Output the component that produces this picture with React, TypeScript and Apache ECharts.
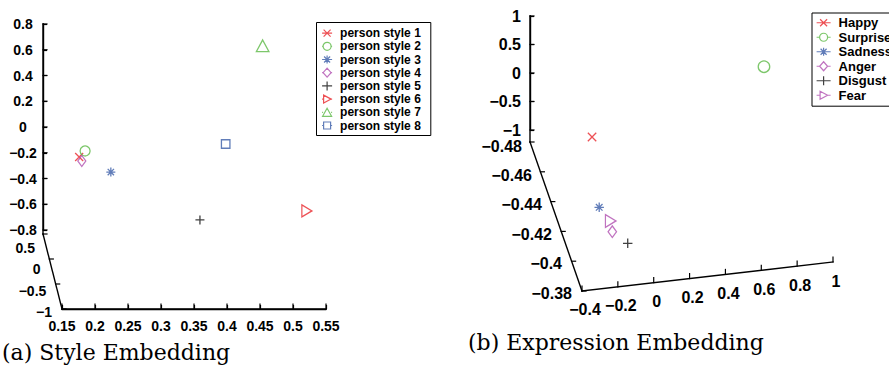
import React, { useEffect, useRef } from 'react';
import * as echarts from 'echarts';

// ---------- data ----------
const styleNames = ['person style 1', 'person style 2', 'person style 3', 'person style 4', 'person style 5', 'person style 6', 'person style 7', 'person style 8'];
const styleKinds = ['x', 'o', '*', 'd', '+', '>', '^', 's'];
// projected positions read against the bottom axis (x) and the vertical axis (z)
const styleX = [0.176, 0.185, 0.224, 0.180, 0.359, 0.521, 0.454, 0.398];
const styleZ = [-0.233, -0.186, -0.350, -0.264, -0.722, -0.652, 0.631, -0.132];
const styleXTicks = [0.15, 0.2, 0.25, 0.3, 0.35, 0.4, 0.45, 0.5, 0.55];
const styleZTicks = [-0.8, -0.6, -0.4, -0.2, 0, 0.2, 0.4, 0.6, 0.8];
const styleDepthTicks = [0.5, 0, -0.5, -1];

const exprNames = ['Happy', 'Surprise', 'Sadness', 'Anger', 'Disgust', 'Fear'];
const exprKinds = ['x', 'o', '*', 'd', '+', '>'];
const exprX = [-0.344, 0.615, -0.304, -0.231, -0.145, -0.240];
const exprZ = [-1.123, 0.111, -2.356, -2.784, -2.988, -2.596];
const exprZTicks = [-1, -0.5, 0, 0.5, 1];
const exprDepthTicks = [-0.48, -0.46, -0.44, -0.42, -0.4, -0.38];
const exprXTicks = [-0.4, -0.2, 0, 0.2, 0.4, 0.6, 0.8, 1];

const captionA = '(a) Style Embedding';
const captionB = '(b) Expression Embedding';

// ---------- layout ----------
const GRID_A = { left: 62, top: 24, width: 264, height: 206 };
const GRID_B = { left: 582, top: 16, width: 251, height: 114 };
const OFFSET_A = 19; // vertical axis of (a) sits 19px left of its grid
const OFFSET_B = 52; // vertical axis of (b) sits 52px left of its grid
const BOTTOM_A = 79; // bottom axis of (a) sits 79px below its grid

// ---------- styles ----------
const FONT = 'Liberation Sans, Arial, Helvetica, sans-serif';
const SERIF = 'DejaVu Serif, Liberation Serif, serif';
const RED = '#e8262b';
const GREEN = '#5cb946';
const BLUE = '#3a5ca8';
const MAG = '#b050b0';
const BLACK = '#111111';
const AXIS_W = 1.4;
const styleColors = [RED, GREEN, BLUE, MAG, BLACK, RED, GREEN, BLUE];
const exprColors = [RED, GREEN, BLUE, MAG, BLACK, MAG];

const SYMBOL: Record<string, string> = {
  x: 'path://M0 0L10 10M10 0L0 10',
  o: 'circle',
  '*': 'path://M5 0L5 10M0 5L10 5M1.5 1.5L8.5 8.5M8.5 1.5L1.5 8.5',
  d: 'path://M5 0L10 5L5 10L0 5Z',
  '+': 'path://M5 0L5 10M0 5L10 5',
  '>': 'path://M0 0L10 5L0 10Z',
  '^': 'path://M5 0L10 10L0 10Z',
  s: 'path://M0 0L10 0L10 10L0 10Z',
};
const SIZE: Record<string, number | number[]> = {
  x: [8, 8],
  o: 10,
  '*': [9, 9],
  d: [8, 11],
  '+': [9, 9],
  '>': [10, 12],
  '^': [12.5, 11.5],
  s: [8.5, 8.5],
};
function scaledSize(kind: string, k: number) {
  const s = SIZE[kind];
  return Array.isArray(s) ? s.map((v) => v * k) : (s as number) * k;
}

function legendIcon(kind: string, L: number, W: number) {
  const c = L / 2;
  const full = `M0 5L${L} 5`;
  const split = `M0 5L${c - 4} 5M${c + 4} 5L${L} 5`;
  let m = '';
  switch (kind) {
    case 'x':
      m = `${full}M${c - 3.5} 1.5L${c + 3.5} 8.5M${c + 3.5} 1.5L${c - 3.5} 8.5`;
      break;
    case 'o':
      m = `${split}M${c - 4} 5A4 4 0 1 1 ${c + 4} 5A4 4 0 1 1 ${c - 4} 5Z`;
      break;
    case '*':
      m = `${full}M${c} 1L${c} 9M${c - 3} 2L${c + 3} 8M${c + 3} 2L${c - 3} 8`;
      break;
    case 'd':
      m = `${split}M${c} 0.5L${c + 4} 5L${c} 9.5L${c - 4} 5Z`;
      break;
    case '+':
      m = `${full}M${c} 0.5L${c} 9.5`;
      break;
    case '>':
      m = `M0 5L${c - 3.5} 5M${c + 4} 5L${L} 5M${c - 3.5} 1L${c + 4} 5L${c - 3.5} 9Z`;
      break;
    case '^':
      m = `${split}M${c} 1L${c + 4.5} 9L${c - 4.5} 9Z`;
      break;
    case 's':
      m = `${split}M${c - 3.5} 1.5L${c + 3.5} 1.5L${c + 3.5} 8.5L${c - 3.5} 8.5Z`;
      break;
  }
  return `path://${m}M${W} 0L${W} 0M${W} 10L${W} 10M0 0L0 0`;
}

const fmt = (v: number) => String(v).replace('-', '\u2212');

const lin = (v: number, d0: number, d1: number, p0: number, p1: number) => p0 + ((v - d0) / (d1 - d0)) * (p1 - p0);
const xA = (v: number) => lin(v, styleXTicks[0], styleXTicks[styleXTicks.length - 1], GRID_A.left, GRID_A.left + GRID_A.width);
const zA = (v: number) => lin(v, styleZTicks[0], styleZTicks[styleZTicks.length - 1], GRID_A.top + GRID_A.height, GRID_A.top);
const zB = (v: number) => lin(v, exprZTicks[0], exprZTicks[exprZTicks.length - 1], GRID_B.top + GRID_B.height, GRID_B.top);

function lineEl(x1: number, y1: number, x2: number, y2: number, w = AXIS_W) {
  return {
    type: 'line',
    silent: true,
    z: 100,
    shape: { x1, y1, x2, y2 },
    style: { stroke: '#000', lineWidth: w, lineCap: 'square' },
  };
}

function obliqueAxis(
  values: number[],
  p0: number[],
  p1: number[],
  l0: number[],
  l1: number[],
  tick: number[],
  align: string,
  fontSize: number
) {
  const els: any[] = [lineEl(p0[0], p0[1], p1[0], p1[1])];
  const n = values.length;
  values.forEach((v, i) => {
    const t = i / (n - 1);
    const px = p0[0] + t * (p1[0] - p0[0]);
    const py = p0[1] + t * (p1[1] - p0[1]);
    els.push(lineEl(px, py, px + tick[0], py + tick[1], 1.2));
    const lx = l0[0] + t * (l1[0] - l0[0]);
    const ly = l0[1] + t * (l1[1] - l0[1]);
    els.push({
      type: 'text',
      silent: true,
      z: 100,
      x: lx,
      y: ly,
      style: {
        text: fmt(v),
        fill: '#000',
        fontSize,
        fontWeight: 'bold',
        fontFamily: FONT,
        align,
        verticalAlign: 'middle',
      },
    });
  });
  return els;
}

export default function App() {
  const ref = useRef<HTMLDivElement>(null);

  useEffect(() => {
    if (!ref.current) return;
    const chart = echarts.init(ref.current, undefined, { renderer: 'svg' });

    const seriesA = styleNames.map((name, i) => ({
      type: 'scatter',
      name,
      xAxisIndex: 0,
      yAxisIndex: 0,
      clip: false,
      silent: true,
      z: 5,
      symbol: SYMBOL[styleKinds[i]],
      symbolSize: scaledSize(styleKinds[i], 1),
      itemStyle: { color: 'transparent', borderColor: styleColors[i], borderWidth: 1.3 },
      data: [[styleX[i], styleZ[i]]],
    }));
    const seriesB = exprNames.map((name, i) => ({
      type: 'scatter',
      name,
      xAxisIndex: 1,
      yAxisIndex: 1,
      clip: false,
      silent: true,
      z: 5,
      symbol: SYMBOL[exprKinds[i]],
      symbolSize: scaledSize(exprKinds[i], exprKinds[i] === 'o' ? 1.15 : 1.05),
      itemStyle: { color: 'transparent', borderColor: exprColors[i], borderWidth: 1.3 },
      data: [[exprX[i], exprZ[i]]],
    }));

    const labelA = { color: '#000', fontSize: 14, fontWeight: 'bold', fontFamily: FONT, formatter: fmt };
    const labelB = { color: '#000', fontSize: 16, fontWeight: 'bold', fontFamily: FONT, formatter: fmt };
    const axisLine = { show: true, onZero: false, lineStyle: { color: '#000', width: AXIS_W, opacity: 1 } };
    const axisTick = { show: true, inside: true, length: 4, lineStyle: { color: '#000', width: 1.2, opacity: 1 } };

    const axA_x = GRID_A.left - OFFSET_A;
    const axA_y = GRID_A.top + GRID_A.height + BOTTOM_A;
    const axB_x = GRID_B.left - OFFSET_B;
    const zAmin = zA(styleZTicks[0]);
    const zAmax = zA(styleZTicks[styleZTicks.length - 1]);
    const zBmin = zB(exprZTicks[0]);
    const zBmax = zB(exprZTicks[exprZTicks.length - 1]);
    const xAmin = xA(styleXTicks[0]);
    const xAmax = xA(styleXTicks[styleXTicks.length - 1]);

    const graphics: any[] = [
      // panel (a): vertical and bottom axis (drawn on top of the ECharts axes)
      lineEl(axA_x, zAmax, axA_x, zAmin + 4),
      lineEl(xAmin, axA_y, xAmax, axA_y),
      ...styleZTicks.map((v) => lineEl(axA_x, zA(v), axA_x + 4, zA(v), 1.2)),
      ...styleXTicks.map((v) => lineEl(xA(v), axA_y, xA(v), axA_y - 5, 1.2)),
      ...obliqueAxis(styleDepthTicks, [axA_x, zAmin + 4], [xAmin, axA_y], [35, 248], [52, 312], [4, 0], 'right', 14),
      // panel (b)
      lineEl(axB_x, zBmax, axB_x, zBmin + 12),
      ...exprZTicks.map((v) => lineEl(axB_x, zB(v), axB_x + 4, zB(v), 1.2)),
      ...obliqueAxis(exprDepthTicks, [axB_x, zBmin + 12], [582, 291], [522, 146], [572, 293], [4, 0], 'right', 16),
      ...obliqueAxis(exprXTicks, [582, 291], [833, 262], [585, 309], [836, 281], [0, -5], 'center', 16),
      {
        type: 'text',
        silent: true,
        x: 2,
        y: 352,
        style: { text: captionA, fill: '#000', fontSize: 22, fontFamily: SERIF, verticalAlign: 'middle', align: 'left' },
      },
      {
        type: 'text',
        silent: true,
        x: 468,
        y: 342,
        style: { text: captionB, fill: '#000', fontSize: 22, fontFamily: SERIF, verticalAlign: 'middle', align: 'left' },
      },
    ];

    const option: any = {
      animation: false,
      backgroundColor: '#fff',
      grid: [
        { ...GRID_A, show: false, containLabel: false },
        { ...GRID_B, show: false, containLabel: false },
      ],
      xAxis: [
        {
          type: 'value',
          gridIndex: 0,
          min: styleXTicks[0],
          max: styleXTicks[styleXTicks.length - 1],
          interval: 0.05,
          position: 'bottom',
          offset: BOTTOM_A,
          axisLine,
          axisTick,
          splitLine: { show: false },
          axisLabel: { ...labelA, margin: 10 },
        },
        {
          type: 'value',
          gridIndex: 1,
          min: exprXTicks[0],
          max: exprXTicks[exprXTicks.length - 1],
          show: false,
          axisLine: { show: false, onZero: false },
          splitLine: { show: false },
        },
      ],
      yAxis: [
        {
          type: 'value',
          gridIndex: 0,
          min: styleZTicks[0],
          max: styleZTicks[styleZTicks.length - 1],
          interval: 0.2,
          position: 'left',
          offset: OFFSET_A,
          axisLine,
          axisTick,
          splitLine: { show: false },
          axisLabel: { ...labelA, margin: 20, align: 'center' },
        },
        {
          type: 'value',
          gridIndex: 1,
          min: exprZTicks[0],
          max: exprZTicks[exprZTicks.length - 1],
          interval: 0.5,
          position: 'left',
          offset: OFFSET_B,
          axisLine,
          axisTick,
          splitLine: { show: false },
          axisLabel: { ...labelB, margin: 9, align: 'right' },
        },
      ],
      legend: [
        {
          orient: 'vertical',
          left: 316.5,
          top: 22.5,
          padding: [4, 10, 3.4, 5],
          itemWidth: 13,
          itemHeight: 10,
          itemGap: 0,
          borderColor: '#000',
          borderWidth: 1,
          backgroundColor: '#fff',
          selectedMode: false,
          itemStyle: { borderWidth: 1.2 },
          textStyle: { color: '#000', fontSize: 12, fontWeight: 'bold', fontFamily: FONT, lineHeight: 13.2 },
          data: styleNames.map((name, i) => ({ name, icon: legendIcon(styleKinds[i], 10, 13) })),
        },
        {
          orient: 'vertical',
          left: 812,
          top: 13,
          padding: [2.5, 10, 3.7, 4],
          itemWidth: 17,
          itemHeight: 10,
          itemGap: 0,
          borderColor: '#000',
          borderWidth: 1,
          backgroundColor: '#fff',
          selectedMode: false,
          itemStyle: { borderWidth: 1.2 },
          textStyle: { color: '#000', fontSize: 13, fontWeight: 'bold', fontFamily: FONT, lineHeight: 14.5 },
          data: exprNames.map((name, i) => ({ name, icon: legendIcon(exprKinds[i], 14, 17) })),
        },
      ],
      graphic: { elements: graphics },
      series: [...seriesA, ...seriesB],
    };

    chart.setOption(option);

    return () => {
      chart.dispose();
    };
  }, []);

  return (
    <div
      ref={ref}
      style={{ position: 'fixed', left: 0, top: 0, width: 889, height: 369, background: '#fff' }}
    />
  );
}
